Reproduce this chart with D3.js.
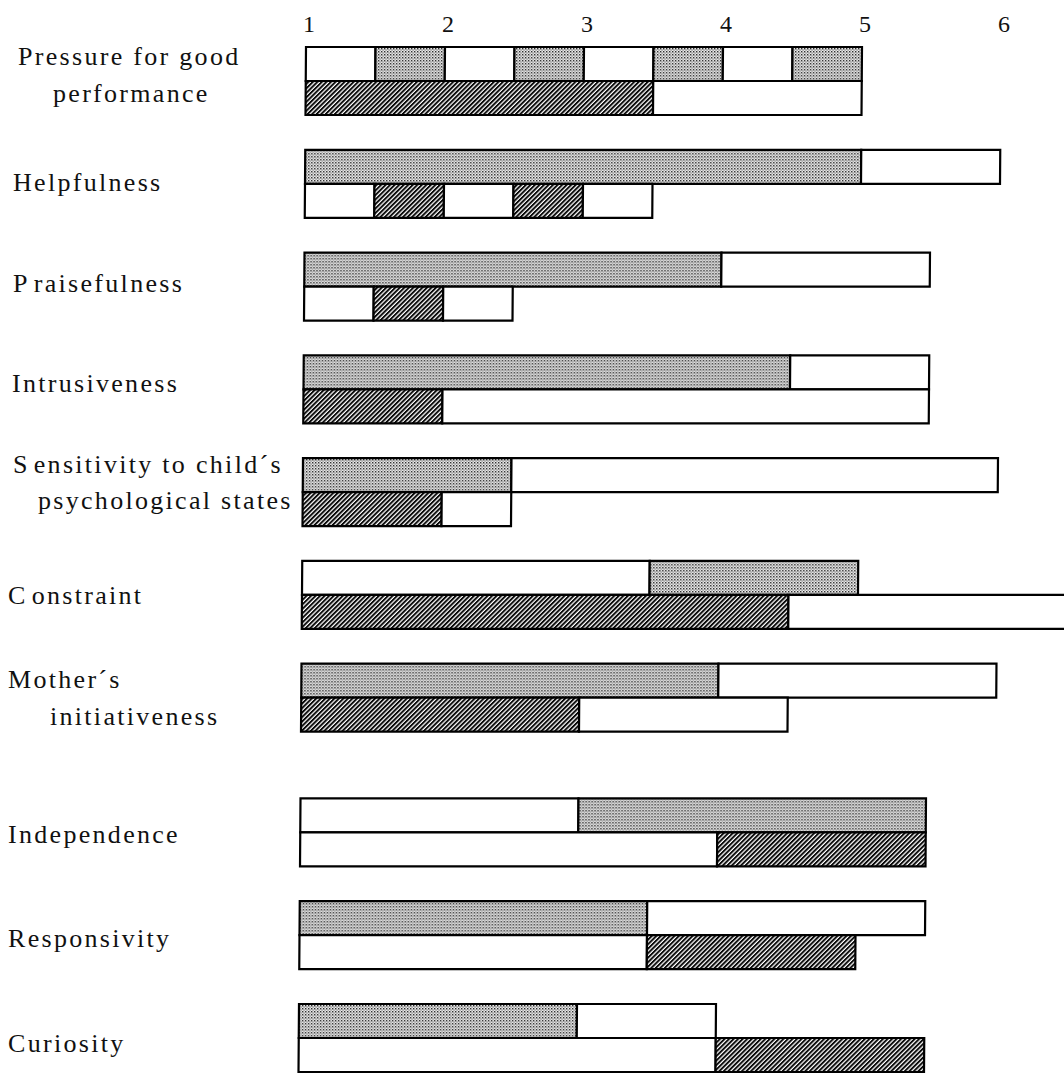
<!DOCTYPE html>
<html><head><meta charset="utf-8">
<script src="https://cdn.jsdelivr.net/npm/d3@7"></script>
<style>body{margin:0;background:#fff} svg{display:block}</style>
</head><body>
<svg id="chart" width="1064" height="1083"></svg>
<script>
// ---- data ----
const categories = ["Pressure for good performance","Helpfulness","Praisefulness","Intrusiveness",
  "Sensitivity to child´s psychological states","Constraint","Mother´s initiativeness",
  "Independence","Responsivity","Curiosity"];
const labelLines = [["Pressure for good","performance"],["Helpfulness"],["Praisefulness"],["Intrusiveness"],
  ["Sensitivity to child´s","psychological states"],["Constraint"],["Mother´s","initiativeness"],
  ["Independence"],["Responsivity"],["Curiosity"]];
const tickValues = [1,2,3,4,5,6];
const topBounds = [
  [1,1.5,2,2.5,3,3.5,4,4.5,5],
  [1,5,6],
  [1,4,5.5],
  [1,4.5,5.5],
  [1,2.5,6],
  [1,3.5,5],
  [1,4,6],
  [1,3,5.5],
  [1,3.5,5.5],
  [1,3,4]
];
const topFills = [
  ["white","dots","white","dots","white","dots","white","dots"],
  ["dots","white"],
  ["dots","white"],
  ["dots","white"],
  ["dots","white"],
  ["white","dots"],
  ["dots","white"],
  ["white","dots"],
  ["dots","white"],
  ["dots","white"]
];
const bottomBounds = [
  [1,3.5,5],
  [1,1.5,2,2.5,3,3.5],
  [1,1.5,2,2.5],
  [1,2,5.5],
  [1,2,2.5],
  [1,4.5,6.5],
  [1,3,4.5],
  [1,4,5.5],
  [1,3.5,5],
  [1,4,5.5]
];
const bottomFills = [
  ["hatch","white"],
  ["white","hatch","white","hatch","white"],
  ["white","hatch","white"],
  ["hatch","white"],
  ["hatch","white"],
  ["hatch","white"],
  ["hatch","white"],
  ["white","hatch"],
  ["white","hatch"],
  ["white","hatch"]
];

// ---- layout ----
const labelX = [[18,53],[13],[13],[12],[13,38],[8],[8,50],[8],[8],[8]];
const labelBase = [[18,55],[41],[39],[37],[15,51],[43],[24,61],[45],[46],[48]];
const firstLetterGap = [[0,0],[0],[4],[0],[4,0],[4],[0,0],[0],[0],[0]];
const barH = 34;
const groupGap = 32;

const svg = d3.select("#chart");
const defs = svg.append("defs");
const dots = defs.append("pattern").attr("id","dots").attr("patternUnits","userSpaceOnUse")
  .attr("width",3).attr("height",3);
dots.append("rect").attr("width",3).attr("height",3).attr("fill","#ececec");
dots.append("rect").attr("x",0).attr("y",0).attr("width",1.4).attr("height",1.4).attr("fill","#2a2a2a");
dots.append("rect").attr("x",1.5).attr("y",1.5).attr("width",1.2).attr("height",1.2).attr("fill","#666");
const hatch = defs.append("pattern").attr("id","hatch").attr("patternUnits","userSpaceOnUse")
  .attr("width",3.2).attr("height",3.2).attr("patternTransform","rotate(45)");
hatch.append("rect").attr("width",3.2).attr("height",3.2).attr("fill","#fff");
hatch.append("line").attr("x1",0.95).attr("y1",0).attr("x2",0.95).attr("y2",3.2)
  .attr("stroke","#0a0a0a").attr("stroke-width",2.0);

const fillOf = {white:"#fff", dots:"url(#dots)", hatch:"url(#hatch)"};

const x = d3.scaleLinear().domain([1,6]).range([306,1001]);
const yIdx = d3.scaleLinear().domain([0,9]).range([47, 972]);
const rowTop = i => yIdx(i) + (i >= 7 ? groupGap : 0);

// ticks
svg.append("g").selectAll("text").data(tickValues).join("text")
  .attr("x", d => x(d) + 3).attr("y", 32)
  .attr("text-anchor","middle")
  .attr("font-family","'Liberation Serif','DejaVu Serif',serif")
  .attr("font-size",24).attr("fill","#111")
  .text(d => d);

// labels
const lab = svg.append("g")
  .attr("font-family","'Liberation Serif','DejaVu Serif',serif")
  .attr("font-size",26).attr("letter-spacing",2.3).attr("fill","#111");
labelLines.forEach((lines,i) => {
  lines.forEach((t,j) => {
    const el = lab.append("text").attr("x", labelX[i][j]).attr("y", rowTop(i) + labelBase[i][j]);
    const gap = firstLetterGap[i][j];
    if (gap) {
      el.append("tspan").text(t.slice(0,1));
      el.append("tspan").attr("dx", gap).text(t.slice(1));
    } else {
      el.text(t);
    }
  });
});

// bars (slight skew as in the scanned original)
const k = -7/957;
const bars = svg.append("g").attr("transform", `matrix(1,0,${k},1,${-k*47},0)`);
categories.forEach((c,i) => {
  const rows = [[topBounds[i], topFills[i], rowTop(i)], [bottomBounds[i], bottomFills[i], rowTop(i) + barH]];
  rows.forEach(([b,f,y0]) => {
    const segs = f.map((fill,s) => ({x0:b[s], x1:b[s+1], fill}));
    bars.append("g").selectAll("rect").data(segs).join("rect")
      .attr("x", d => x(d.x0)).attr("y", y0)
      .attr("width", d => x(d.x1) - x(d.x0)).attr("height", barH)
      .attr("fill", d => fillOf[d.fill])
      .attr("stroke","#000").attr("stroke-width",2.2);
  });
});
</script>
</body></html>
